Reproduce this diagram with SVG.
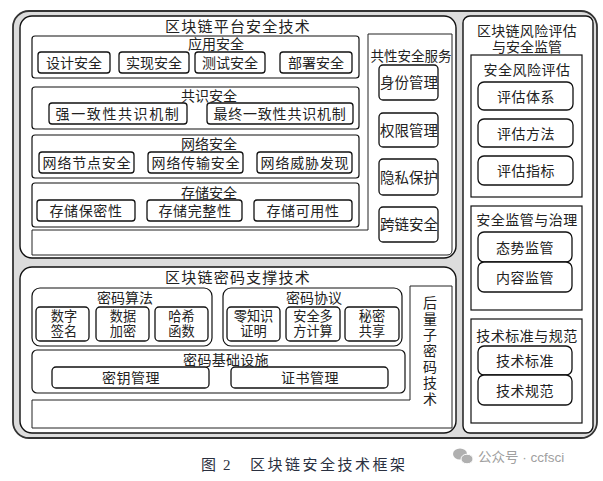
<svg xmlns="http://www.w3.org/2000/svg" width="603" height="481" viewBox="0 0 603 481">
<style>
text{font-family:"Liberation Sans","Noto Sans CJK SC",sans-serif;fill:#222;text-anchor:middle;font-size:14px}
.big{font-size:15px;letter-spacing:1.2px}
.two{font-size:13.2px}
.frame{fill:#dcdcdc;stroke:#333;stroke-width:1.8}
.main{fill:#fff;stroke:#111;stroke-width:1.4}
.panel{fill:#fff;stroke:#111;stroke-width:1.2}
.sub{fill:#fff;stroke:#111;stroke-width:1.3}
.side{fill:#fff;stroke:#222;stroke-width:1}
.cap{fill:#2a3040;font-size:15px;text-anchor:start}
.wm{fill:#a0a0a0;font-size:13.5px;text-anchor:start}
</style>

<rect class="frame" x="13" y="11" width="584" height="427" rx="16"/>

<!-- Platform -->
<g id="platform">
<rect class="main" x="20" y="16" width="436" height="242" rx="12"/>
<text class="big" x="238" y="32">区块链平台安全技术</text>
</g>
<g id="platform-base">
<path class="side" d="M368,34 H452 V250 Q452,255 447,255 H32 V230 H368 Z"/>
</g>
<g id="app-sec">
<rect class="panel" x="32" y="36" width="327" height="42" rx="3"/>
<text x="216" y="49">应用安全</text>
<rect class="sub" x="38" y="52" width="72" height="21" rx="3"/><text x="74" y="68">设计安全</text>
<rect class="sub" x="119" y="52" width="70" height="21" rx="3"/><text x="154" y="68">实现安全</text>
<rect class="sub" x="195" y="52" width="70" height="21" rx="3"/><text x="230" y="68">测试安全</text>
<rect class="sub" x="280" y="52" width="72" height="21" rx="3"/><text x="316" y="68">部署安全</text>
</g>
<g id="consensus-sec">
<rect class="panel" x="32" y="87" width="327" height="42" rx="3"/>
<text x="209" y="101">共识安全</text>
<rect class="sub" x="49" y="103" width="138" height="21" rx="3"/><text x="118" y="119" style="letter-spacing:1.6px">强一致性共识机制</text>
<rect class="sub" x="207" y="103" width="146" height="21" rx="3"/><text x="280" y="119" style="letter-spacing:0.8px">最终一致性共识机制</text>
</g>
<g id="network-sec">
<rect class="panel" x="32" y="135" width="327" height="43" rx="3"/>
<text x="209" y="149">网络安全</text>
<rect class="sub" x="39" y="152" width="95" height="21" rx="3"/><text x="87" y="168" style="letter-spacing:0.8px">网络节点安全</text>
<rect class="sub" x="148" y="152" width="95" height="21" rx="3"/><text x="196" y="168" style="letter-spacing:0.8px">网络传输安全</text>
<rect class="sub" x="257" y="152" width="95" height="21" rx="3"/><text x="305" y="168" style="letter-spacing:0.8px">网络威胁发现</text>
</g>
<g id="storage-sec">
<rect class="panel" x="32" y="183" width="327" height="44" rx="3"/>
<text x="209" y="198">存储安全</text>
<rect class="sub" x="37" y="200" width="98" height="21" rx="3"/><text x="86" y="216" style="letter-spacing:0.6px">存储保密性</text>
<rect class="sub" x="147" y="200" width="95" height="21" rx="3"/><text x="195" y="216" style="letter-spacing:0.6px">存储完整性</text>
<rect class="sub" x="254" y="200" width="98" height="21" rx="3"/><text x="303" y="216" style="letter-spacing:0.6px">存储可用性</text>
</g>
<g id="common-services">
<text x="411" y="61" style="font-size:13.5px">共性安全服务</text>
<rect class="sub" x="379" y="65" width="59" height="35" rx="4"/><text x="409" y="88" style="font-size:14.5px">身份管理</text>
<rect class="sub" x="379" y="113" width="59" height="34" rx="4"/><text x="409" y="135.5" style="font-size:14.5px">权限管理</text>
<rect class="sub" x="379" y="159" width="59" height="36" rx="4"/><text x="409" y="182.5" style="font-size:14.5px">隐私保护</text>
<rect class="sub" x="379" y="207" width="59" height="35" rx="4"/><text x="409" y="230" style="font-size:14.5px">跨链安全</text>
</g>

<!-- Risk -->
<g id="risk">
<rect class="main" x="463" y="16" width="130" height="417" rx="7"/>
<text x="527" y="36"><tspan x="527" style="letter-spacing:0.3px">区块链风险评估</tspan><tspan x="527" dy="15.7">与安全监管</tspan></text>
</g>
<g id="risk-assess">
<rect class="panel" x="471" y="55" width="111" height="142"/>
<text x="527" y="74.5" style="letter-spacing:0.5px">安全风险评估</text>
<rect class="sub" x="478" y="82" width="95" height="28" rx="6"/><text x="526" y="101.5" style="letter-spacing:0.5px">评估体系</text>
<rect class="sub" x="478" y="119" width="95" height="28" rx="6"/><text x="526" y="138.5" style="letter-spacing:0.5px">评估方法</text>
<rect class="sub" x="478" y="156" width="95" height="29" rx="6"/><text x="526" y="176" style="letter-spacing:0.5px">评估指标</text>
</g>
<g id="supervision">
<rect class="panel" x="471" y="206" width="111" height="104"/>
<text x="527" y="225" style="letter-spacing:0.5px">安全监管与治理</text>
<rect class="sub" x="478" y="232" width="94" height="30" rx="6"/><text x="525" y="252.5" style="letter-spacing:0.5px">态势监管</text>
<rect class="sub" x="478" y="262" width="94" height="30" rx="6"/><text x="525" y="282.5" style="letter-spacing:0.5px">内容监管</text>
</g>
<g id="standards">
<rect class="panel" x="471" y="319" width="111" height="104"/>
<text x="527" y="341" style="letter-spacing:0.5px">技术标准与规范</text>
<rect class="sub" x="478" y="346" width="94" height="29" rx="6"/><text x="525" y="366" style="letter-spacing:0.5px">技术标准</text>
<rect class="sub" x="478" y="375" width="94" height="30" rx="6"/><text x="525" y="395.5" style="letter-spacing:0.5px">技术规范</text>
</g>

<!-- Crypto -->
<g id="crypto">
<rect class="main" x="20" y="267" width="436" height="166" rx="12"/>
<text class="big" x="238" y="283">区块链密码支撑技术</text>
</g>
<g id="crypto-base">
<path class="side" d="M410,286 H452 V428 H32 V400 H410 Z"/>
<text x="430" y="308"><tspan x="430">后</tspan><tspan x="430" dy="16">量</tspan><tspan x="430" dy="16">子</tspan><tspan x="430" dy="16">密</tspan><tspan x="430" dy="16">码</tspan><tspan x="430" dy="16">技</tspan><tspan x="430" dy="16">术</tspan></text>
</g>
<g id="crypto-algo">
<rect class="panel" x="32" y="288" width="180" height="58" rx="8"/>
<text x="125" y="302.5">密码算法</text>
<rect class="sub" x="36" y="307" width="53" height="34" rx="4"/><text class="two" x="64" y="321"><tspan x="64">数字</tspan><tspan x="64" dy="14.8">签名</tspan></text>
<rect class="sub" x="96" y="307" width="53" height="34" rx="4"/><text class="two" x="123" y="321"><tspan x="123">数据</tspan><tspan x="123" dy="14.8">加密</tspan></text>
<rect class="sub" x="155" y="307" width="53" height="34" rx="4"/><text class="two" x="181.5" y="321"><tspan x="181.5">哈希</tspan><tspan x="181.5" dy="14.8">函数</tspan></text>
</g>
<g id="crypto-proto">
<rect class="panel" x="223" y="288" width="179" height="58" rx="8"/>
<text x="314" y="302.5">密码协议</text>
<rect class="sub" x="227" y="307" width="53" height="34" rx="4"/><text class="two" x="253.5" y="321"><tspan x="253.5">零知识</tspan><tspan x="253.5" dy="14.8">证明</tspan></text>
<rect class="sub" x="286" y="307" width="54" height="34" rx="4"/><text class="two" x="313" y="321"><tspan x="313">安全多</tspan><tspan x="313" dy="14.8">方计算</tspan></text>
<rect class="sub" x="345" y="307" width="54" height="34" rx="4"/><text class="two" x="372" y="321"><tspan x="372">秘密</tspan><tspan x="372" dy="14.8">共享</tspan></text>
</g>
<g id="crypto-infra">
<rect class="panel" x="32" y="350" width="373" height="43" rx="5"/>
<text x="226" y="364.5" style="letter-spacing:0.3px">密码基础设施</text>
<rect class="sub" x="52" y="367" width="157" height="21" rx="4"/><text x="131" y="383" style="letter-spacing:0.5px">密钥管理</text>
<rect class="sub" x="231" y="367" width="157" height="21" rx="4"/><text x="310" y="383" style="letter-spacing:0.5px">证书管理</text>
</g>

<!-- Caption -->
<g id="caption">
<text class="cap" x="201" y="470">图</text>
<text class="cap" x="223" y="470" style="font-family:'Liberation Serif',serif">2</text>
<text class="cap" x="250" y="470" style="letter-spacing:2.5px">区块链安全技术框架</text>
</g>
<g id="watermark">
<ellipse cx="460" cy="454" rx="7" ry="5.5" fill="#b0b0b0"/>
<ellipse cx="467" cy="459" rx="6" ry="4.8" fill="#b0b0b0" stroke="#fff" stroke-width="1"/>
<text class="wm" x="478" y="462">公众号 · ccfsci</text>
</g>
</svg>
